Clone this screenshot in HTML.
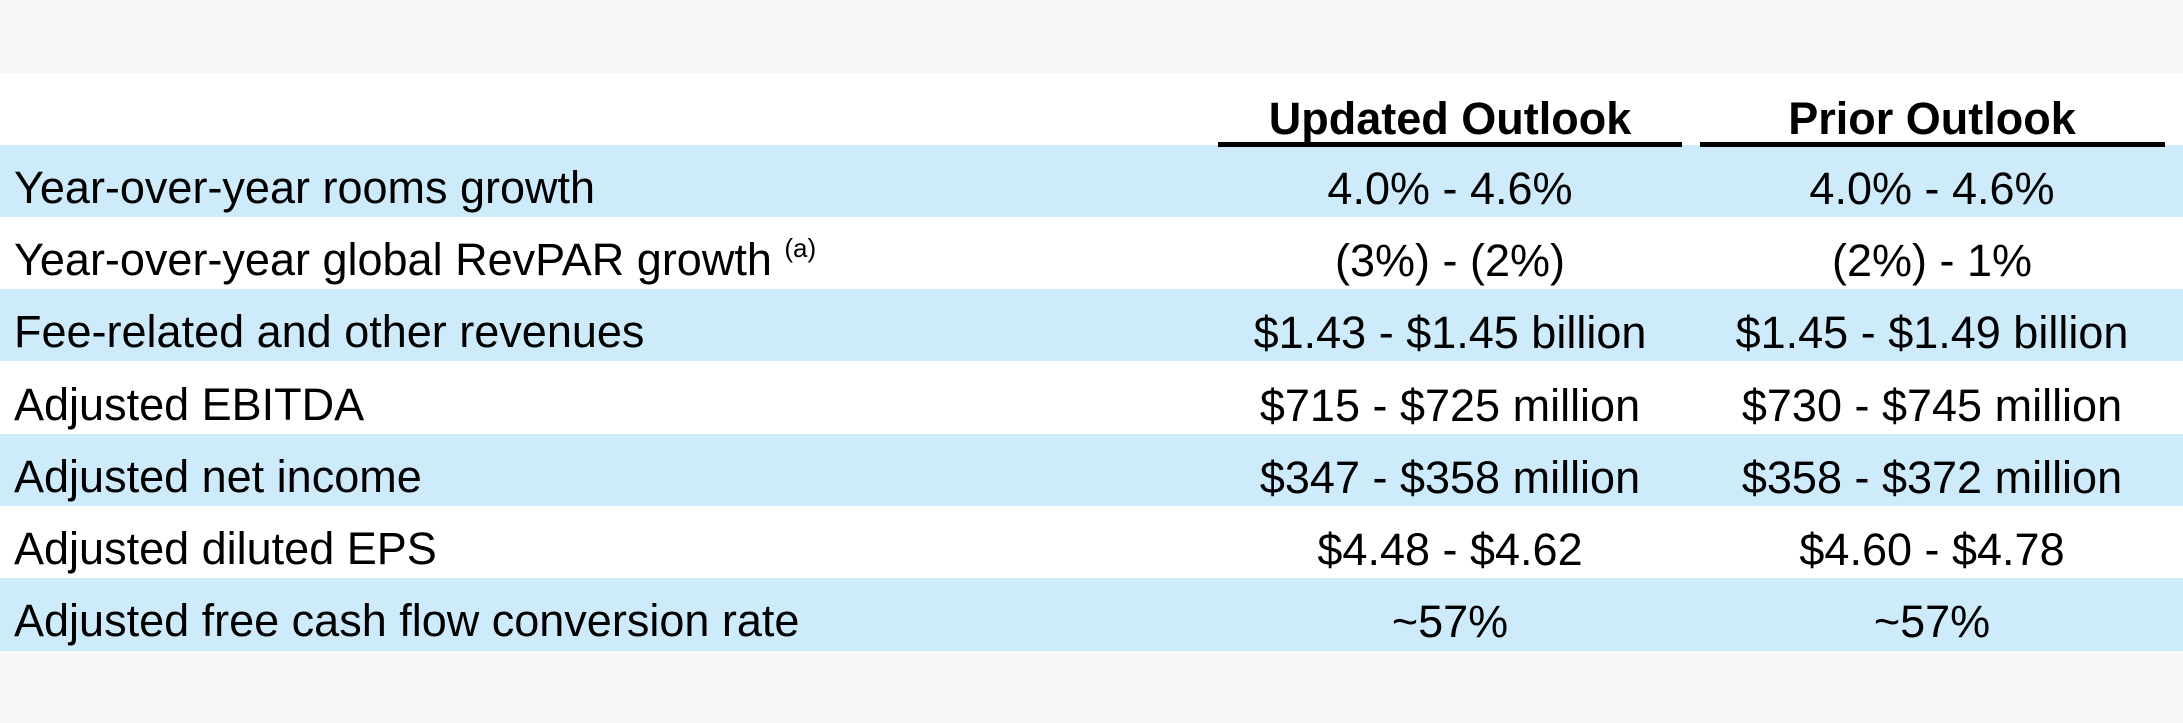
<!DOCTYPE html>
<html><head><meta charset="utf-8"><style>
html,body{margin:0;padding:0;}
body{width:2183px;height:723px;position:relative;background:#fff;overflow:hidden;font-family:"Liberation Sans",Arial,sans-serif;color:#000;}
.g{position:absolute;left:0;width:2183px;background:#f8f8f8;}
.b{position:absolute;left:0;width:2183px;background:#cdebfb;}
.l{position:absolute;left:14px;font-size:45px;line-height:45px;white-space:nowrap;}
.v{position:absolute;width:600px;text-align:center;font-size:45px;line-height:45px;white-space:nowrap;}
.h{position:absolute;width:600px;text-align:center;font-size:45px;line-height:45px;font-weight:bold;white-space:nowrap;}
.u{position:absolute;top:142px;height:5px;background:#000;}
sup{font-size:26px;vertical-align:0;position:relative;top:-18px;}
</style></head><body>
<div class="g" style="top:0;height:73px"></div>
<div class="g" style="top:651px;height:72px"></div>
<div class="b" style="top:145px;height:72px"></div>
<div class="b" style="top:289px;height:72px"></div>
<div class="b" style="top:434px;height:72px"></div>
<div class="b" style="top:578px;height:73px"></div>

<div class="h" style="left:1150px;top:96px">Updated Outlook</div>
<div class="h" style="left:1632px;top:96px">Prior Outlook</div>
<div class="u" style="left:1218px;width:464px"></div>
<div class="u" style="left:1700px;width:465px"></div>

<div class="l" style="top:165px">Year-over-year rooms growth</div>
<div class="l" style="top:237px">Year-over-year global RevPAR growth <sup>(a)</sup></div>
<div class="l" style="top:309px">Fee-related and other revenues</div>
<div class="l" style="top:382px">Adjusted EBITDA</div>
<div class="l" style="top:454px">Adjusted net income</div>
<div class="l" style="top:526px">Adjusted diluted EPS</div>
<div class="l" style="top:598px">Adjusted free cash flow conversion rate</div>

<div class="v" style="left:1150px;top:166px">4.0% - 4.6%</div>
<div class="v" style="left:1632px;top:166px">4.0% - 4.6%</div>
<div class="v" style="left:1150px;top:238px">(3%) - (2%)</div>
<div class="v" style="left:1632px;top:238px">(2%) - 1%</div>
<div class="v" style="left:1150px;top:310px">$1.43 - $1.45 billion</div>
<div class="v" style="left:1632px;top:310px">$1.45 - $1.49 billion</div>
<div class="v" style="left:1150px;top:383px">$715 - $725 million</div>
<div class="v" style="left:1632px;top:383px">$730 - $745 million</div>
<div class="v" style="left:1150px;top:455px">$347 - $358 million</div>
<div class="v" style="left:1632px;top:455px">$358 - $372 million</div>
<div class="v" style="left:1150px;top:527px">$4.48 - $4.62</div>
<div class="v" style="left:1632px;top:527px">$4.60 - $4.78</div>
<div class="v" style="left:1150px;top:599px">~57%</div>
<div class="v" style="left:1632px;top:599px">~57%</div>
</body></html>
